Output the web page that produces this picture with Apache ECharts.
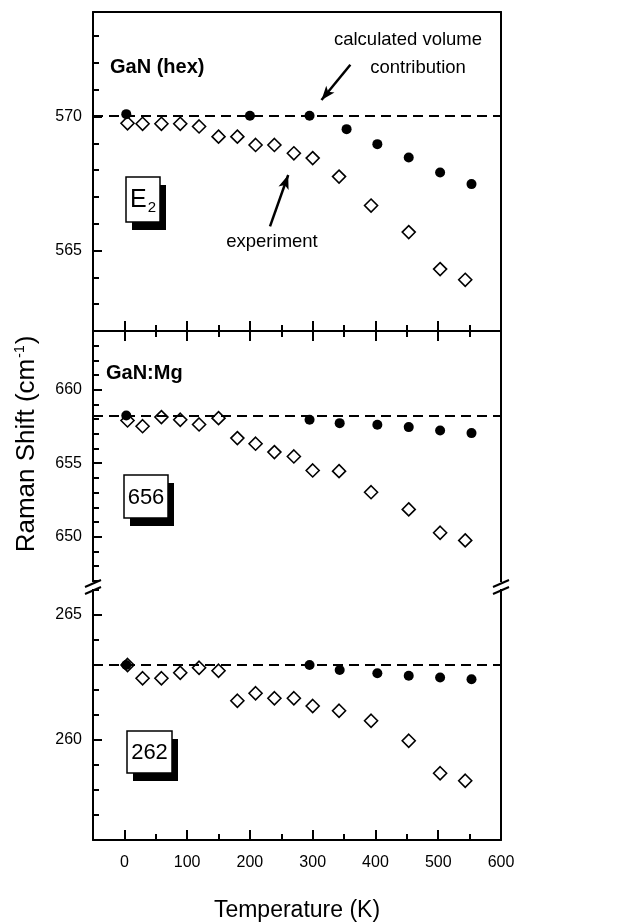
<!DOCTYPE html>
<html>
<head>
<meta charset="utf-8">
<script src="https://cdn.jsdelivr.net/npm/echarts@6/dist/echarts.min.js"></script>
<style>
  html, body { margin: 0; padding: 0; background: #fff; }
  #chart { width: 634px; height: 924px; }
</style>
</head>
<body>
<div id="chart"></div>
<script>
// temperatures (K)
var tExp = [5, 29, 59, 89, 119, 150, 180, 209, 239, 270, 300, 342, 393, 453, 503, 543];
var tCalcHex = [3, 200, 295, 354, 403, 453, 503, 553];
var tCalcMg = [3, 295, 343, 403, 453, 503, 553];

// GaN (hex) E2 mode
var expHex = [569.75, 569.73, 569.73, 569.73, 569.63, 569.25, 569.25, 568.94, 568.94, 568.63, 568.45, 567.76, 566.68, 565.69, 564.31, 563.91];
var calcHex = [570.09, 570.03, 570.03, 569.53, 568.97, 568.47, 567.91, 567.48];
var levelHex = 570.02;

// GaN:Mg 656 mode
var exp656 = [657.91, 657.52, 658.14, 657.96, 657.64, 658.07, 656.71, 656.33, 655.76, 655.46, 654.51, 654.46, 653.03, 651.86, 650.27, 649.75];
var calc656 = [658.25, 657.96, 657.73, 657.62, 657.46, 657.23, 657.05];
var level656 = 658.2;

// GaN:Mg 262 mode
var exp262 = [263.0, 262.47, 262.47, 262.69, 262.89, 262.77, 261.57, 261.87, 261.67, 261.67, 261.36, 261.17, 260.77, 259.97, 258.67, 258.37];
var calc262 = [263.0, 263.0, 262.8, 262.67, 262.57, 262.5, 262.43];
var level262 = 263.02;

// ticks
var xMajor = [0, 100, 200, 300, 400, 500, 600];
var xMinor = [50, 150, 250, 350, 450, 550];
var yMajorHex = [565, 570];
var yMinorHex = [563, 564, 566, 567, 568, 569, 571, 572, 573];
var yMajor656 = [650, 655, 660];
var yMinor656 = [647, 648, 649, 651, 652, 653, 654, 656, 657, 658, 659, 661, 662, 663];
var yMajor262 = [260, 265];
var yMinor262 = [257, 258, 259, 261, 262, 263, 264, 266];

// annotation arrows [from, to] in data coords of the top panel
var arrows = [
  [[360, 571.93], [314, 570.62]],
  [[232, 565.9], [261, 567.82]]
];

var font = 'Liberation Sans, Arial, Helvetica, sans-serif';

function zip(xs, ys) {
  return xs.map(function (x, i) { return [x, ys[i]]; });
}

var panels = [
  { top: 12, height: 319, min: 562, max: 573.9, major: yMajorHex, minor: yMinorHex,
    exp: expHex, calc: calcHex, tCalc: tCalcHex, level: levelHex, tickSide: 'bottom', frameSide: 'top' },
  { top: 331, height: 252, min: 646.85, max: 664, major: yMajor656, minor: yMinor656,
    exp: exp656, calc: calc656, tCalc: tCalcMg, level: level656, tickSide: 'top', frameSide: null },
  { top: 583, height: 257, min: 256, max: 266.28, major: yMajor262, minor: yMinor262,
    exp: exp262, calc: calc262, tCalc: tCalcMg, level: level262, tickSide: 'bottom', frameSide: null, labels: true }
];

var grids = [], xAxes = [], yAxes = [], series = [];
var lineStyle = { color: '#000', width: 2 };

panels.forEach(function (p, g) {
  grids.push({ left: 93, right: 133, top: p.top, height: p.height, containLabel: false });

  var xMain = xAxes.length;
  xAxes.push({
    type: 'value', gridIndex: g, position: p.tickSide, min: -50, max: 600,
    axisLine: { show: true, onZero: false, lineStyle: lineStyle },
    axisTick: { show: true, inside: true, length: 10, customValues: xMajor, lineStyle: lineStyle },
    axisLabel: p.labels ? { show: true, customValues: xMajor, margin: 15, color: '#000', fontSize: 16, fontFamily: font } : { show: false },
    splitLine: { show: false },
    name: p.labels ? 'Temperature (K)' : '',
    nameLocation: 'middle', nameGap: 59,
    nameTextStyle: { color: '#000', fontSize: 23, fontFamily: font }
  });
  xAxes.push({
    type: 'value', gridIndex: g, position: p.tickSide, min: -50, max: 600,
    axisLine: { show: false, onZero: false },
    axisTick: { show: true, inside: true, length: 6, customValues: xMinor, lineStyle: lineStyle },
    axisLabel: { show: false }, splitLine: { show: false }
  });
  if (p.frameSide) {
    xAxes.push({
      type: 'value', gridIndex: g, position: p.frameSide, min: -50, max: 600,
      axisLine: { show: true, onZero: false, lineStyle: lineStyle },
      axisTick: { show: false }, axisLabel: { show: false }, splitLine: { show: false }
    });
  }

  var yMain = yAxes.length;
  yAxes.push({
    type: 'value', gridIndex: g, position: 'left', min: p.min, max: p.max,
    axisLine: { show: true, onZero: false, lineStyle: lineStyle },
    axisTick: { show: true, inside: true, length: 9, customValues: p.major, lineStyle: lineStyle },
    axisLabel: { show: true, customValues: p.major, margin: 11, color: '#000', fontSize: 16, fontFamily: font },
    splitLine: { show: false }
  });
  yAxes.push({
    type: 'value', gridIndex: g, position: 'left', min: p.min, max: p.max,
    axisLine: { show: false, onZero: false },
    axisTick: { show: true, inside: true, length: 6, customValues: p.minor, lineStyle: lineStyle },
    axisLabel: { show: false }, splitLine: { show: false }
  });
  yAxes.push({
    type: 'value', gridIndex: g, position: 'right', min: p.min, max: p.max,
    axisLine: { show: true, onZero: false, lineStyle: lineStyle },
    axisTick: { show: false }, axisLabel: { show: false }, splitLine: { show: false }
  });

  series.push({
    type: 'scatter', xAxisIndex: xMain, yAxisIndex: yMain,
    data: zip(tExp, p.exp), symbol: 'diamond', symbolSize: 13,
    itemStyle: { color: '#fff', borderColor: '#000', borderWidth: 1.6, opacity: 1 },
    z: 3, silent: true,
    markLine: {
      silent: true, symbol: 'none', label: { show: false },
      lineStyle: { color: '#000', width: 2, type: [10, 6], opacity: 1 },
      data: [{ yAxis: p.level }]
    }
  });
  var calc = {
    type: 'scatter', xAxisIndex: xMain, yAxisIndex: yMain,
    data: zip(p.tCalc, p.calc), symbol: 'circle', symbolSize: 10,
    itemStyle: { color: '#000', opacity: 1 }, z: 4, silent: true
  };
  if (g === 0) {
    calc.markLine = {
      silent: true, symbol: ['none', 'arrow'], symbolSize: [8, 14], label: { show: false },
      lineStyle: { color: '#000', width: 2.5, type: 'solid', opacity: 1 },
      data: arrows.map(function (a) { return [{ coord: a[0] }, { coord: a[1] }]; })
    };
  }
  series.push(calc);
});

function box(x, y, w, h, text) {
  return {
    type: 'group', z: 100,
    children: [
      { type: 'rect', shape: { x: x + 6, y: y + 8, width: w, height: h }, style: { fill: '#000' }, z: 100 },
      { type: 'rect', shape: { x: x, y: y, width: w, height: h }, style: { fill: '#fff', stroke: '#000', lineWidth: 1.5 }, z: 101 },
      { type: 'text', x: x + w / 2, y: y + h / 2 + 1, z: 102,
        style: { text: text, fill: '#000', font: '22px ' + font, align: 'center', verticalAlign: 'middle',
          rich: { sub: { fontSize: 15, fontFamily: font, padding: [14, 0, 0, 1] }, n: { fontSize: 25, fontFamily: font } } } }
    ]
  };
}

function brk(x) {
  return {
    type: 'group', z: 100,
    children: [
      { type: 'rect', shape: { x: x - 5, y: 582, width: 10, height: 7 }, style: { fill: '#fff' }, z: 100 },
      { type: 'line', shape: { x1: x - 8, y1: 587, x2: x + 8, y2: 580 }, style: { stroke: '#000', lineWidth: 2 }, z: 101 },
      { type: 'line', shape: { x1: x - 8, y1: 594, x2: x + 8, y2: 587 }, style: { stroke: '#000', lineWidth: 2 }, z: 101 }
    ]
  };
}

function label(text, x, y, size, bold, align) {
  return {
    type: 'text', x: x, y: y, z: 100,
    style: { text: text, fill: '#000', font: (bold ? 'bold ' : '') + size + 'px ' + font,
      align: align || 'left', verticalAlign: 'middle' }
  };
}

var graphics = [
  box(126, 177, 34, 45, '{n|E}{sub|2}'),
  box(124, 475, 44, 43, '656'),
  box(127, 731, 45, 42, '262'),
  brk(93), brk(501),
  label('GaN (hex)', 110, 67, 20, true),
  label('GaN:Mg', 106, 373, 20, true),
  label('calculated volume', 408, 40, 18.5, false, 'center'),
  label('contribution', 418, 68, 18.5, false, 'center'),
  label('experiment', 272, 242, 18.5, false, 'center'),
  {
    type: 'text', x: 27, y: 444, rotation: Math.PI / 2, z: 100,
    style: {
      text: '{n|Raman Shift (cm}{sup|-1}{n|)}', align: 'center', verticalAlign: 'middle', fill: '#000',
      rich: {
        n: { fontSize: 26, fontFamily: font, fill: '#000' },
        sup: { fontSize: 14, fontFamily: font, fill: '#000', padding: [0, 1, 14, 1] }
      }
    }
  }
];

var chart = echarts.init(document.getElementById('chart'));
chart.setOption({
  animation: false,
  backgroundColor: '#fff',
  textStyle: { fontFamily: font },
  grid: grids,
  xAxis: xAxes,
  yAxis: yAxes,
  series: series,
  graphic: graphics
});
</script>
</body>
</html>
